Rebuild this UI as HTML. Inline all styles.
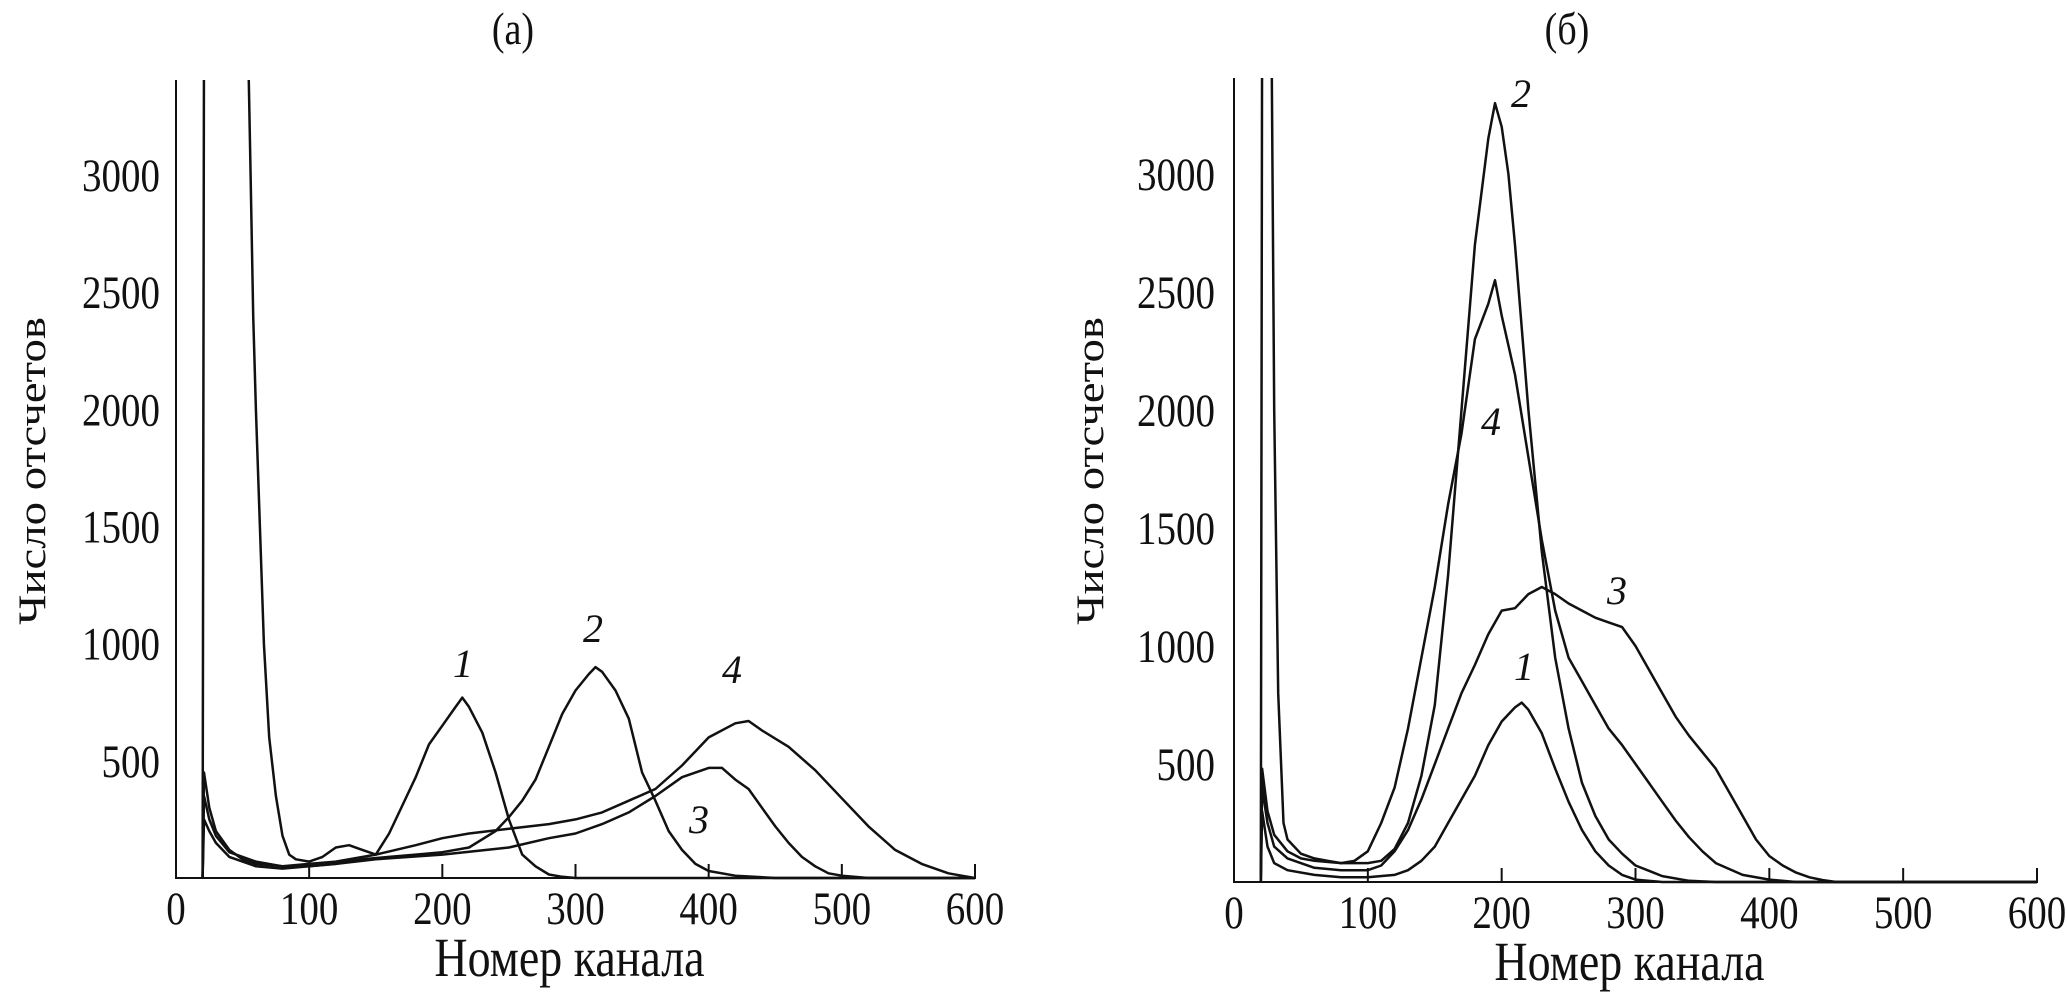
<!DOCTYPE html>
<html><head><meta charset="utf-8">
<style>
html,body{margin:0;padding:0;background:#fff;}
svg{display:block;}
text{font-family:"Liberation Serif","DejaVu Serif",serif;fill:#111;}
</style></head>
<body>
<svg id="chart" width="2067" height="994" viewBox="0 0 2067 994" xmlns="http://www.w3.org/2000/svg"></svg>
<script>
// ---- data: panel (a) ----
const xTicks = [0,100,200,300,400,500,600];
const yTicks = [500,1000,1500,2000,2500,3000];
const a1x = [20,21,54,56,58,60,63,66,70,75,80,85,90,100,110,120,130,140,150,160,170,180,190,200,210,215,220,230,240,250,260,270,280,290,300,600];
const a1y = [0,3600,3600,3000,2400,2000,1500,1000,600,350,180,100,80,70,90,130,140,120,100,190,310,430,570,650,730,770,730,620,450,250,100,50,15,5,0,0];
const a2x = [20,21,25,30,40,50,60,80,100,120,140,160,180,200,220,240,250,260,270,280,290,300,310,315,320,330,340,350,360,370,380,390,400,420,450,600];
const a2y = [0,450,300,200,120,80,60,50,50,60,80,90,100,110,130,200,260,330,420,560,700,800,870,900,880,800,680,450,330,200,120,60,30,10,0,0];
const a3x = [20,21,25,30,40,60,80,100,120,150,200,250,280,300,320,340,360,380,400,410,420,430,440,450,460,470,480,490,500,520,600];
const a3y = [0,250,200,150,90,50,40,50,60,80,100,130,170,190,230,280,350,430,470,470,420,380,300,220,150,90,50,20,10,0,0];
const a4x = [20,21,25,30,40,60,80,100,120,150,180,200,220,250,280,300,320,340,360,380,400,420,430,440,460,480,500,520,540,560,580,590,600];
const a4y = [0,350,250,180,110,70,50,60,70,100,140,170,190,210,230,250,280,330,380,480,600,660,670,630,560,460,340,220,120,60,20,10,0];
// ---- data: panel (б) ----
const b1x = [20,21,25,30,40,60,80,100,120,130,140,150,160,170,180,190,200,210,215,220,230,240,250,260,270,280,290,300,320,600];
const b1y = [0,300,150,80,50,30,20,20,30,50,90,150,250,350,450,580,680,740,760,730,630,480,340,220,130,70,30,10,0,0];
const b2x = [20,21,28,30,33,37,40,50,60,70,80,90,100,110,120,130,140,150,160,170,180,190,195,200,205,210,220,230,240,250,260,270,280,290,300,320,340,360,600];
const b2y = [0,3600,3600,2000,800,250,180,120,100,90,80,80,80,90,140,250,450,750,1300,2000,2700,3150,3300,3200,3000,2700,2000,1400,950,650,420,280,180,120,70,25,5,0,0];
const b3x = [20,21,25,30,40,60,80,100,110,120,130,140,150,160,170,180,190,200,210,220,230,240,250,260,270,280,290,300,310,320,330,340,350,360,370,380,390,400,410,420,430,440,450,600];
const b3y = [0,400,250,150,100,60,50,50,70,130,220,350,500,650,800,920,1050,1150,1160,1220,1250,1220,1180,1150,1120,1100,1080,1000,900,800,700,620,550,480,380,280,180,110,70,40,20,8,0,0];
const b4x = [20,21,25,30,40,50,60,80,90,100,110,120,130,140,150,160,170,180,190,195,200,210,220,230,240,250,260,270,280,290,300,310,320,330,340,350,360,380,400,420,600];
const b4y = [0,480,300,200,130,100,90,80,90,130,250,400,650,950,1250,1600,1900,2300,2450,2550,2400,2150,1800,1450,1150,950,850,750,650,580,500,420,340,260,190,130,80,30,10,0,0];

const NS = "http://www.w3.org/2000/svg";
const svg = document.getElementById('chart');
function mk(tag, attrs, parent){ const e=document.createElementNS(NS,tag); for(const k in attrs) e.setAttribute(k,attrs[k]); (parent||svg).appendChild(e); return e; }

const defs = mk('defs',{});
const panels = [
  {id:'a', x0:176, x1:975, base:878, y3000:175, top:80, yLabRight:160, title:'(а)', titleX:513, yTitleX:45,
   series:[[a1x,a1y],[a2x,a2y],[a3x,a3y],[a4x,a4y]],
   labels:[['1',463,677],['2',593,642],['4',732,683],['3',699,833]]},
  {id:'b', x0:1234, x1:2037, base:882, y3000:174, top:78, yLabRight:1215, title:'(б)', titleX:1567, yTitleX:1103,
   series:[[b1x,b1y],[b2x,b2y],[b3x,b3y],[b4x,b4y]],
   labels:[['2',1521,107],['4',1491,435],['3',1617,604],['1',1524,680]]}
];

panels.forEach(p=>{
  const cp = mk('clipPath',{id:'clip-'+p.id},defs);
  mk('rect',{x:p.x0,y:p.top,width:p.x1-p.x0+4,height:p.base-p.top+2},cp);
  const g = mk('g',{});
  
  
  const sx = v => p.x0 + (p.x1-p.x0)*v/600;
  const sy = v => p.base - (p.base-p.y3000)*v/3000;

  const t = mk('text',{transform:`translate(${p.titleX},44) scale(1,1.2)`,'text-anchor':'middle','font-size':38},g);
  t.textContent = p.title;
  
  

  const ya = mk('line',{x1:p.x0,y1:p.top,x2:p.x0,y2:p.base+1,stroke:'#111','stroke-width':2},g);
  
  
  const xa = mk('line',{x1:p.x0-1,y1:p.base,x2:p.x1+1,y2:p.base,stroke:'#111','stroke-width':2},g);
  
  

  xTicks.forEach(v=>{
    if(v>0){
      const tk = mk('line',{x1:sx(v),y1:p.base,x2:sx(v),y2:p.base-14,stroke:'#111','stroke-width':2},g);
      
      
    }
    const tl = mk('text',{transform:`translate(${sx(v)},${p.base+46}) scale(1,1.2)`,'text-anchor':'middle','font-size':39},g);
    tl.textContent = v;
    
    
  });
  yTicks.forEach(v=>{
    const tl = mk('text',{transform:`translate(${p.yLabRight},${sy(v)+16}) scale(1,1.2)`,'text-anchor':'end','font-size':39},g);
    tl.textContent = v;
    
    
  });

  const xt = mk('text',{transform:`translate(${(p.x0+p.x1)/2-6},${p.base+98}) scale(1,1.2)`,'text-anchor':'middle','font-size':46},g);
  xt.textContent = 'Номер канала';
  
  
  const yt = mk('text',{transform:`translate(${p.yTitleX},471) rotate(-90) scale(1.2,1)`,'text-anchor':'middle','font-size':39},g);
  yt.textContent = 'Число отсчетов';
  
  

  const sg = mk('g',{'clip-path':`url(#clip-${p.id})`},g);
  p.series.forEach((s,i)=>{
    const pts = s[0].map((x,j)=>sx(x).toFixed(1)+','+sy(s[1][j]).toFixed(1)).join(' ');
    const pl = mk('polyline',{points:pts,fill:'none',stroke:'#111','stroke-width':2.5,'stroke-linejoin':'round'},sg);
    
    
  });
  p.labels.forEach(l=>{
    const lt = mk('text',{x:l[1],y:l[2],'font-size':40,'font-style':'italic','text-anchor':'middle'},g);
    lt.textContent = l[0];
    
    
  });
});
</script>
</body></html>
